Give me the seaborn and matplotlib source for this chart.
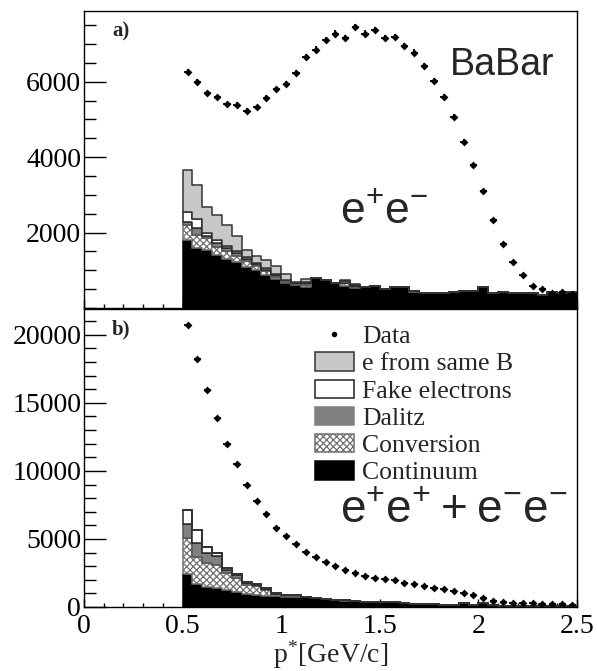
import numpy as np
import pandas as pd
import matplotlib
matplotlib.use("Agg")
import matplotlib.pyplot as plt
import seaborn as sns
from matplotlib.patches import Patch
from matplotlib.lines import Line2D
from matplotlib.ticker import MultipleLocator, FixedLocator

# ---------------- data ----------------
bin_low, bin_high, n_bins = 0.5, 2.5, 40
components = ["e from same B", "Fake electrons", "Dalitz", "Conversion", "Continuum"]

# panel a) e+e-
data_a = [6260, 5995, 5687, 5581, 5396, 5377, 5219, 5316, 5563, 5793,
          5940, 6230, 6659, 6852, 7099, 7276, 7161, 7452, 7276, 7364,
          7161, 7188, 6950, 6773, 6419, 6022, 5598, 5068, 4406, 3788,
          3099, 2331, 1687, 1227, 874, 583, 495, 389, 432, 371]
cont_a = [1800, 1600, 1540, 1400, 1300, 1220, 1100, 1000, 880, 760,
          650, 620, 550, 800, 740, 650, 590, 520, 550, 590,
          500, 550, 550, 420, 390, 390, 390, 430, 440, 460,
          550, 390, 430, 390, 390, 390, 350, 430, 410, 430]
conv_a = [400, 330, 310, 230, 200, 170, 140, 110, 90, 70,
          50, 20, 60, 0, 0, 0, 60, 50, 0, 0,
          0, 0, 0, 10, 0, 0, 0, 0, 0, 0,
          0, 0, 0, 0, 0, 0, 0, 0, 0, 0]
dal_a = [90, 180, 70, 90, 80, 70, 60, 50, 40, 40,
         30, 10, 40, 0, 0, 0, 20, 20, 0, 0,
         0, 0, 0, 10, 0, 0, 0, 0, 0, 0,
         0, 0, 0, 0, 0, 0, 0, 0, 0, 0]
fake_a = [260, 260, 60, 90, 70, 60, 40, 30, 40, 30,
          20, 10, 30, 0, 0, 0, 40, 30, 0, 0,
          0, 0, 0, 0, 0, 0, 0, 0, 0, 0,
          0, 0, 0, 0, 0, 0, 0, 0, 0, 0]
sameb_a = [1120, 880, 700, 660, 550, 380, 210, 200, 220, 210,
           150, 40, 100, 0, 0, 0, 30, 20, 0, 0,
           0, 0, 0, 0, 0, 0, 0, 0, 0, 0,
           0, 0, 0, 0, 0, 0, 0, 0, 0, 0]

# panel b) e+e+ + e-e-
data_b = [20745, 18215, 15952, 13864, 11998, 10523, 8946, 7766, 6836, 5804,
          5184, 4640, 4040, 3710, 3300, 2980, 2730, 2490, 2280, 2110,
          2040, 1990, 1750, 1670, 1570, 1400, 1300, 1180, 1010, 885,
          640, 467, 344, 320, 270, 270, 221, 197, 197, 148]
cont_b = [2450, 1700, 1450, 1400, 1230, 1100, 990, 870, 800, 780,
          760, 760, 713, 640, 565, 516, 440, 442, 393, 393,
          369, 344, 320, 221, 221, 197, 150, 150, 270, 150,
          270, 150, 100, 100, 100, 100, 100, 100, 100, 100]
conv_b = [2610, 2010, 1770, 1700, 1300, 1010, 630, 650, 450, 150,
          60, 60, 0, 0, 0, 0, 50, 0, 0, 0,
          0, 0, 0, 0, 0, 0, 0, 0, 0, 0,
          0, 0, 0, 0, 0, 0, 0, 0, 0, 0]
dal_b = [1060, 985, 740, 660, 200, 250, 150, 100, 80, 40,
         30, 30, 0, 0, 0, 0, 0, 0, 0, 0,
         0, 0, 0, 0, 0, 0, 0, 0, 0, 0,
         0, 0, 0, 0, 0, 0, 0, 0, 0, 0]
fake_b = [1030, 980, 420, 200, 120, 70, 100, 70, 60, 40,
          30, 30, 0, 0, 0, 0, 30, 0, 0, 0,
          0, 0, 0, 0, 0, 0, 0, 0, 0, 0,
          0, 0, 0, 0, 0, 0, 0, 0, 0, 0]
sameb_b = [0] * 40

# ---------------- style ----------------
sns.set_style("ticks")
plt.rcParams.update({
    "font.family": ["Liberation Serif", "DejaVu Serif"],
    "mathtext.fontset": "custom",
    "mathtext.rm": "Liberation Serif",
    "mathtext.sf": "Liberation Sans",
    "axes.edgecolor": "black",
    "axes.linewidth": 1.0,
    "xtick.color": "black",
    "ytick.color": "black",
    "hatch.color": "#707070",
    "hatch.linewidth": 0.9,
})

fill_colors = {"e from same B": "#c8c8c8", "Fake electrons": "#ffffff",
               "Dalitz": "#808080", "Conversion": "#fdfdfd", "Continuum": "#000000"}
edge_colors = {"e from same B": "#333333", "Fake electrons": "#222222",
               "Dalitz": "#555555", "Conversion": "#707070", "Continuum": "#000000"}

edges = np.linspace(bin_low, bin_high, n_bins + 1)
centers = 0.5 * (edges[:-1] + edges[1:])

fig = plt.figure(figsize=(5.97, 6.71), dpi=100)
ax1 = fig.add_axes([84 / 597, 1 - 308 / 671, 493 / 597, 297 / 671])
ax2 = fig.add_axes([84 / 597, 1 - 607 / 671, 493 / 597, 298 / 671], sharex=ax1)


def draw_panel(ax, comp_values, data, ymax):
    rows = []
    for name, vals in zip(components, comp_values):
        for c, v in zip(centers, vals):
            rows.append({"p": c, "w": v, "comp": name})
    df = pd.DataFrame(rows)
    sns.histplot(data=df, x="p", weights="w", hue="comp", hue_order=components,
                 multiple="stack", bins=[float(e) for e in edges], element="step", fill=True,
                 palette=fill_colors, alpha=1, linewidth=1.1, legend=False, ax=ax)
    for coll in ax.collections:
        fc = coll.get_facecolor()
        if len(fc) == 0:
            continue
        rgb = tuple(np.round(fc[0][:3], 3))
        for name, col in fill_colors.items():
            if np.allclose(rgb, matplotlib.colors.to_rgb(col), atol=0.002):
                coll.set_edgecolor(edge_colors[name])
                if name == "Conversion":
                    coll.set_facecolor("white")
                    coll.set_hatch("xxxxx")
    d = np.asarray(data, dtype=float)
    ax.errorbar(centers, d, xerr=0.018, yerr=np.sqrt(d), fmt="none",
                ecolor="black", elinewidth=1.3, capsize=0, zorder=6)
    sns.scatterplot(x=centers, y=d, color="black", s=16, marker="D",
                    edgecolor="black", linewidth=0, zorder=7, ax=ax)
    ax.set_xlim(0, 2.5)
    ax.set_ylim(0, ymax)
    ax.set_xlabel("")
    ax.set_ylabel("")
    ax.xaxis.set_major_locator(MultipleLocator(0.5))
    ax.xaxis.set_minor_locator(MultipleLocator(0.1))
    ax.tick_params(axis="y", which="major", direction="in", length=16, width=1.0,
                   labelsize=20, pad=2, right=False)
    ax.tick_params(axis="y", which="minor", direction="in", length=8.5, width=1.0, right=False)
    ax.tick_params(axis="x", which="major", direction="in", length=6, width=1.0,
                   labelsize=20, pad=5, top=False)
    ax.tick_params(axis="x", which="minor", direction="in", length=3, width=1.0, top=False)
    for s in ax.spines.values():
        s.set_visible(True)
        s.set_color("black")
        s.set_linewidth(1.0)


draw_panel(ax1, [sameb_a, fake_a, dal_a, conv_a, cont_a], data_a, 7874)
draw_panel(ax2, [sameb_b, fake_b, dal_b, conv_b, cont_b], data_b, 21900)

ax1.yaxis.set_major_locator(FixedLocator([2000, 4000, 6000]))
ax1.yaxis.set_minor_locator(MultipleLocator(500))
ax1.tick_params(axis="x", labelbottom=False)
ax2.yaxis.set_major_locator(FixedLocator([0, 5000, 10000, 15000, 20000]))
ax2.yaxis.set_minor_locator(MultipleLocator(1000))
ax2.set_xticks([0, 0.5, 1, 1.5, 2, 2.5])
ax2.set_xticklabels(["0", "0.5", "1", "1.5", "2", "2.5"])
ax2.set_xlabel(r"$\mathrm{p^{*}[GeV/c]}$", fontsize=20, labelpad=0)

ax1.text(0.057, 0.965, "a)", transform=ax1.transAxes, fontsize=15,
         fontweight="bold", va="top", ha="left")
ax2.text(0.057, 0.965, "b)", transform=ax2.transAxes, fontsize=15,
         fontweight="bold", va="top", ha="left")

fig.text(450 / 597, 1 - 75 / 671, "BaBar", family="Liberation Sans",
         fontsize=27, ha="left", va="baseline")
fig.text(340 / 597, 1 - 223 / 671, r"$\mathsf{e^{+}e^{-}}$",
         fontsize=32, ha="left", va="baseline")
fig.text(340 / 597, 1 - 523 / 671, r"$\mathsf{e^{+}e^{+} + e^{-}e^{-}}$",
         fontsize=33, ha="left", va="baseline")

handles = [
    Line2D([], [], marker="o", ls="none", color="black", ms=3),
    Patch(facecolor=fill_colors["e from same B"], edgecolor="#333333", linewidth=1.1),
    Patch(facecolor="white", edgecolor="#222222", linewidth=1.1),
    Patch(facecolor=fill_colors["Dalitz"], edgecolor="#808080", linewidth=1.1),
    Patch(facecolor="white", edgecolor="#707070", hatch="xxxxx", linewidth=1.1),
    Patch(facecolor="black", edgecolor="black", linewidth=1.1),
]
labels = ["Data"] + components
ax2.legend(handles, labels, loc="upper left",
           bbox_to_anchor=(315 / 597, 1 - 325 / 671), bbox_transform=fig.transFigure,
           frameon=False, borderpad=0, borderaxespad=0, handlelength=1.5,
           handleheight=0.72, handletextpad=0.33, labelspacing=0.16,
           prop={"family": "Liberation Serif", "size": 18.5})

fig.savefig("out.png", dpi=100)
